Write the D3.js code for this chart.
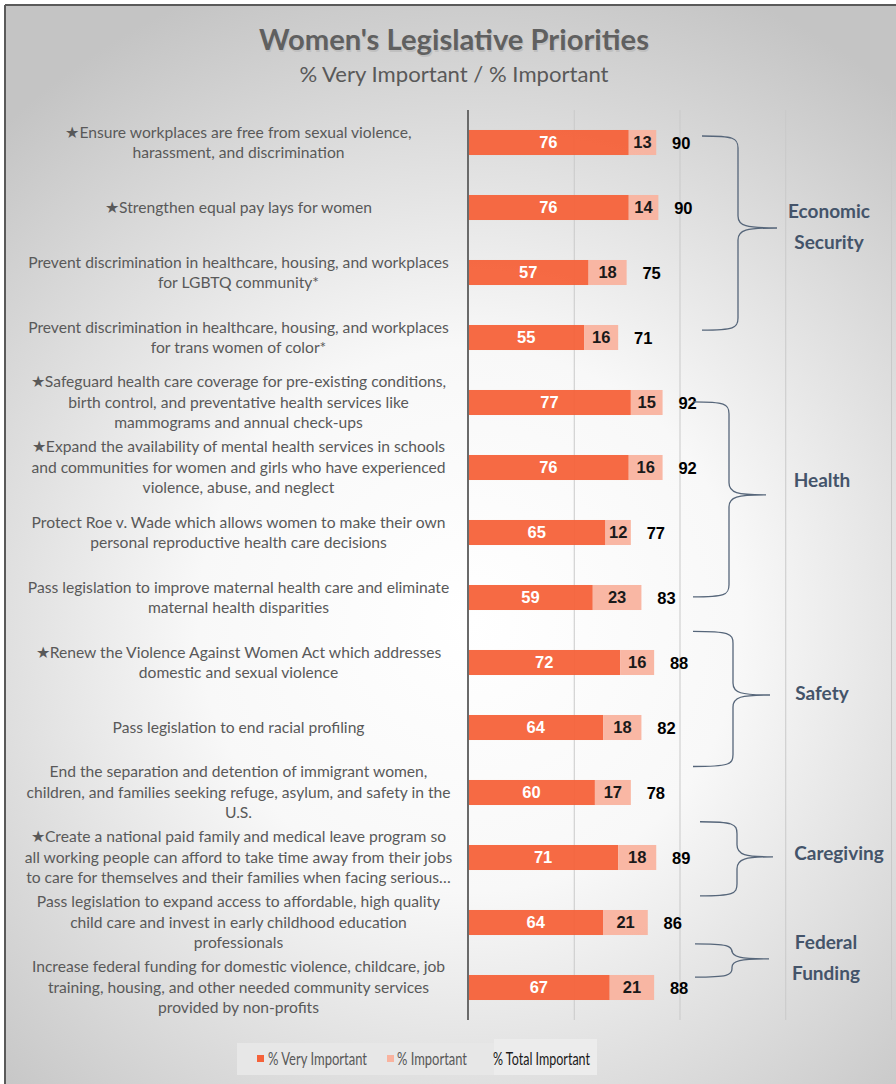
<!DOCTYPE html>
<html>
<head>
<meta charset="utf-8">
<script src="https://cdn.jsdelivr.net/npm/d3@7"></script>
<style>
  html, body { margin: 0; padding: 0; background: #ffffff; }
  svg { display: block; }
</style>
</head>
<body>
<div id="chart"></div>
<script>
// ---------------- DATA ----------------
const categories = [
  "★Ensure workplaces are free from sexual violence,\nharassment, and discrimination",
  "★Strengthen equal pay lays for women",
  "Prevent discrimination in healthcare, housing, and workplaces\nfor LGBTQ community*",
  "Prevent discrimination in healthcare, housing, and workplaces\nfor trans women of color*",
  "★Safeguard health care coverage for pre-existing conditions,\nbirth control, and preventative health services like\nmammograms and annual check-ups",
  "★Expand the availability of mental health services in schools\nand communities for women and girls who have experienced\nviolence, abuse, and neglect",
  "Protect Roe v. Wade which allows women to make their own\npersonal reproductive health care decisions",
  "Pass legislation to improve maternal health care and eliminate\nmaternal health disparities",
  "★Renew the Violence Against Women Act which addresses\ndomestic and sexual violence",
  "Pass legislation to end racial profiling",
  "End the separation and detention of immigrant women,\nchildren, and families seeking refuge, asylum, and safety in the\nU.S.",
  "★Create a national paid family and medical leave program so\nall working people can afford to take time away from their jobs\nto care for themselves and their families when facing serious…",
  "Pass legislation to expand access to affordable, high quality\nchild care and invest in early childhood education\nprofessionals",
  "Increase federal funding for domestic violence, childcare, job\ntraining, housing, and other needed community services\nprovided by non-profits"
];
const veryImportant  = [76, 76, 57, 55, 77, 76, 65, 59, 72, 64, 60, 71, 64, 67];
const important      = [13, 14, 18, 16, 15, 16, 12, 23, 16, 18, 17, 18, 21, 21];
const totalImportant = [90, 90, 75, 71, 92, 92, 77, 83, 88, 82, 78, 89, 86, 88];
const seriesNames = ["% Very Important", "% Important", "% Total Important"];
const groupNames = ["Economic Security", "Health", "Safety", "Caregiving", "Federal Funding"];
const xTicks = [0, 50, 100, 150, 200];
const titleText = "Women's Legislative Priorities";
const subtitleText = "% Very Important / % Important";

// ---------------- LAYOUT / STYLE ----------------
const W = 896, H = 1084;
const C_DARK = "#F5623A", C_LIGHT = "#F9B39F";
const TXT = "#595959", GROUP_C = "#44546A";
const plot = { left: 468, right: 891, top: 110, bottom: 1020 };

const svg = d3.select("#chart").append("svg")
  .attr("width", W).attr("height", H)
  .attr("font-family", "Lato, 'Open Sans', sans-serif");

const defs = svg.append("defs");
const rg = defs.append("radialGradient").attr("id", "bg")
  .attr("gradientUnits", "userSpaceOnUse")
  .attr("cx", 470).attr("cy", 620).attr("r", 680);
rg.append("stop").attr("offset", 0).attr("stop-color", "#ffffff");
rg.append("stop").attr("offset", 0.4).attr("stop-color", "#f8f8f8");
rg.append("stop").attr("offset", 1).attr("stop-color", "#c4c4c4");

// chart area background + border
svg.append("rect").attr("x", 5).attr("y", 5).attr("width", W).attr("height", H)
  .attr("fill", "url(#bg)");
svg.append("line").attr("x1", 5).attr("x2", W).attr("y1", 5).attr("y2", 5)
  .attr("stroke", "#5a5a5a").attr("stroke-width", 2);
svg.append("line").attr("x1", 5).attr("x2", 5).attr("y1", 5).attr("y2", H)
  .attr("stroke", "#5a5a5a").attr("stroke-width", 2);

// title
const tg = svg.append("g");
tg.append("text").attr("x", 454).attr("y", 50).attr("text-anchor", "middle")
  .attr("font-size", 29).attr("font-weight", 700).attr("fill", "#c0c0c0")
  .attr("textLength", 390).attr("lengthAdjust", "spacingAndGlyphs")
  .attr("transform", "translate(1,1.5)")
  .text(titleText);
tg.append("text").attr("x", 454).attr("y", 50).attr("text-anchor", "middle")
  .attr("font-size", 29).attr("font-weight", 700).attr("fill", "#606060")
  .attr("textLength", 390).attr("lengthAdjust", "spacingAndGlyphs")
  .text(titleText);
tg.append("text").attr("x", 454).attr("y", 82).attr("text-anchor", "middle")
  .attr("font-size", 22).attr("fill", TXT)
  .attr("textLength", 309).attr("lengthAdjust", "spacingAndGlyphs")
  .text(subtitleText);

// scales
const x = d3.scaleLinear().domain([0, 200]).range([plot.left, plot.right]);
const y = d3.scaleBand().domain(d3.range(categories.length))
  .range([plot.top, plot.bottom]).paddingInner(0.615).paddingOuter(0.3075);
const rowPos = d3.scaleLinear().domain([0, categories.length]).range([plot.top, plot.bottom]);

// gridlines
const xAxis = d3.axisBottom(x).tickValues(xTicks).tickSize(-(plot.bottom - plot.top)).tickFormat("");
const gx = svg.append("g").attr("transform", `translate(0,${plot.bottom})`).call(xAxis);
gx.select(".domain").remove();
gx.selectAll(".tick line").attr("stroke", "#c9c9c9").attr("stroke-width", 1);

// bars
const rows = categories.map((c, i) => ({ i, c, v: veryImportant[i], m: important[i], t: totalImportant[i] }));
const bars = svg.append("g");
bars.selectAll("rect.v").data(rows).join("rect").attr("class", "v")
  .attr("x", x(0)).attr("y", d => y(d.i))
  .attr("width", d => x(d.v) - x(0)).attr("height", y.bandwidth())
  .attr("fill", C_DARK).attr("fill-opacity", 0.95);
bars.selectAll("rect.m").data(rows).join("rect").attr("class", "m")
  .attr("x", d => x(d.v)).attr("y", d => y(d.i))
  .attr("width", d => x(d.v + d.m) - x(d.v)).attr("height", y.bandwidth())
  .attr("fill", C_LIGHT).attr("fill-opacity", 0.95);

// axis line (zero)
svg.append("line").attr("x1", x(0)).attr("x2", x(0))
  .attr("y1", plot.top).attr("y2", plot.bottom)
  .attr("stroke", "#6a6a6a").attr("stroke-width", 2);

// bar value labels
const lab = svg.append("g").attr("font-family", "'Liberation Sans', Arial, sans-serif")
  .attr("font-weight", 700).attr("font-size", 16.5).attr("text-anchor", "middle");
lab.selectAll("text.v").data(rows).join("text").attr("class", "v")
  .attr("x", d => (x(0) + x(d.v)) / 2).attr("y", d => y(d.i) + y.bandwidth() / 2)
  .attr("dy", "0.36em").attr("fill", "#ffffff").text(d => d.v);
lab.selectAll("text.m").data(rows).join("text").attr("class", "m")
  .attr("x", d => (x(d.v) + x(d.v + d.m)) / 2).attr("y", d => y(d.i) + y.bandwidth() / 2)
  .attr("dy", "0.36em").attr("fill", "#1a1a1a").text(d => d.m);
lab.selectAll("text.t").data(rows).join("text").attr("class", "t")
  .attr("x", d => x(d.v + d.m) + 25).attr("y", d => y(d.i) + y.bandwidth() / 2)
  .attr("dy", "0.4em").attr("fill", "#000000").text(d => d.t);

// category labels
const catG = svg.append("g").attr("fill", TXT).attr("text-anchor", "middle");
const LH = 20.5;
const catTexts = catG.selectAll("text").data(rows).join("text")
  .attr("font-size", 14.5);
catTexts.each(function (d) {
  const lines = d.c.split("\n");
  const t = d3.select(this);
  const cy = y(d.i) + y.bandwidth() / 2;
  lines.forEach((ln, k) => {
    t.append("tspan").attr("x", 238.5)
      .attr("y", cy + (k - (lines.length - 1) / 2) * LH)
      .attr("dy", "0.35em").text(ln);
  });
});
// fit widest line to the label column width
let maxW = 0;
catG.selectAll("tspan").each(function () { maxW = Math.max(maxW, this.getComputedTextLength()); });
const fs = 14.5 * 428 / maxW;
catTexts.attr("font-size", fs);

// group braces
const braceLayout = [
  { x0: 702, xs: 738, xp: 777, p0: 0.40, pm: 1.815, p1: 3.385, lx: 829, lp: 1.79 },
  { x0: 693, xs: 729, xp: 766, p0: 4.49, pm: 5.92, p1: 7.49, lx: 822, lp: 5.69 },
  { x0: 693, xs: 733, xp: 770, p0: 8.02, pm: 9.0, p1: 10.1, lx: 822, lp: 8.97 },
  { x0: 700, xs: 737, xp: 773, p0: 10.95, pm: 11.49, p1: 12.09, lx: 839, lp: 11.43 },
  { x0: 695, xs: 732, xp: 769, p0: 12.83, pm: 13.06, p1: 13.34, lx: 826, lp: 13.04 }
];
const bg = svg.append("g");
braceLayout.forEach((b, gi) => {
  const y0 = rowPos(b.p0), ym = rowPos(b.pm), y1 = rowPos(b.p1);
  const r = Math.min(12, (y1 - y0) / 4);
  const p = d3.path();
  p.moveTo(b.x0, y0);
  p.bezierCurveTo(b.xs - 4, y0, b.xs, y0 + 2, b.xs, y0 + r);
  p.lineTo(b.xs, ym - r);
  p.bezierCurveTo(b.xs, ym - 2, b.xs + 8, ym, b.xp, ym);
  p.bezierCurveTo(b.xs + 8, ym, b.xs, ym + 2, b.xs, ym + r);
  p.lineTo(b.xs, y1 - r);
  p.bezierCurveTo(b.xs, y1 - 2, b.xs - 4, y1, b.x0, y1);
  bg.append("path").attr("d", p.toString()).attr("fill", "none")
    .attr("stroke", "#56667a").attr("stroke-width", 1.3);
  const words = groupNames[gi].split(" ");
  const t = bg.append("text").attr("text-anchor", "middle").attr("fill", GROUP_C)
    .attr("font-size", 19).attr("font-weight", 700);
  words.forEach((w, k) => {
    t.append("tspan").attr("x", b.lx)
      .attr("y", rowPos(b.lp) + (k - (words.length - 1) / 2) * 31)
      .attr("dy", "0.35em").text(w);
  });
});

// legend
const lg = svg.append("g");
lg.append("rect").attr("x", 237).attr("y", 1043).attr("width", 360).attr("height", 32).attr("fill", "#e7e7e7");
lg.append("rect").attr("x", 494).attr("y", 1039).attr("width", 103).attr("height", 36).attr("fill", "#ececec");
const legendItems = [
  { name: seriesNames[0], color: C_DARK, mx: 257, tx: 268, tl: 99, fill: TXT },
  { name: seriesNames[1], color: C_LIGHT, mx: 387, tx: 397, tl: 70, fill: TXT },
  { name: seriesNames[2], color: null, mx: 0, tx: 493, tl: 97, fill: "#1a1a1a" }
];
legendItems.forEach(it => {
  if (it.color) lg.append("rect").attr("x", it.mx).attr("y", 1055).attr("width", 7).attr("height", 7).attr("fill", it.color);
  lg.append("text").attr("x", it.tx).attr("y", 1065).attr("font-size", 18).attr("fill", it.fill)
    .attr("textLength", it.tl).attr("lengthAdjust", "spacingAndGlyphs").text(it.name);
});
</script>
</body>
</html>
